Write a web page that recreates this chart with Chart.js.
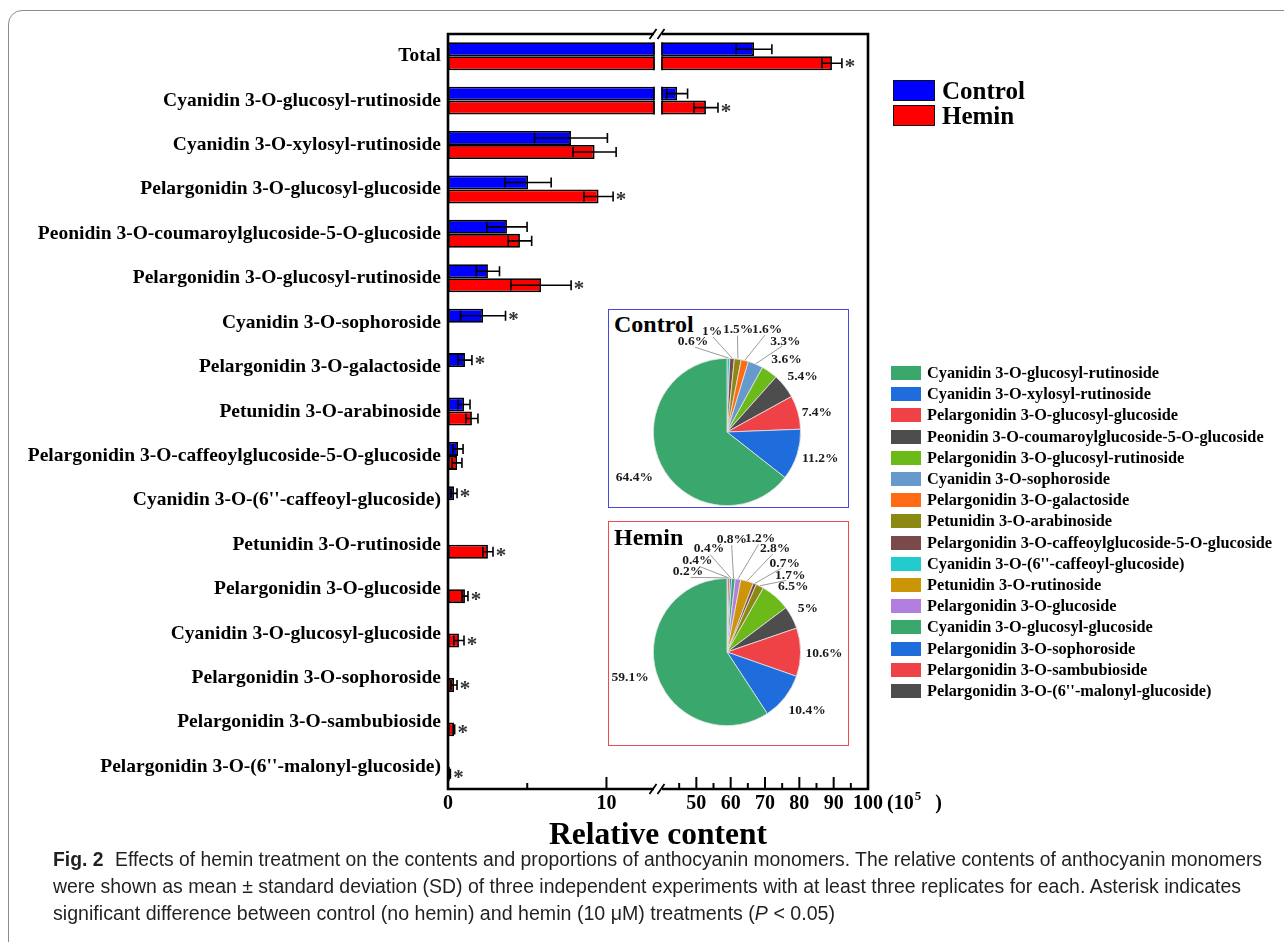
<!DOCTYPE html>
<html>
<head>
<meta charset="utf-8">
<script src="https://cdn.jsdelivr.net/npm/chart.js@4.4.1/dist/chart.umd.min.js"></script>
<style>
  html, body { margin: 0; padding: 0; background: #fff; }
  #page { position: relative; width: 1284px; height: 942px; overflow: hidden; background: #fff; }
  #outline { position: absolute; left: 8px; top: 10px; width: 1320px; height: 980px;
             border: 1px solid #8c8c8c; border-radius: 14px; box-sizing: border-box; }
  canvas { position: absolute; }
  .serif { font-family: "Liberation Serif", "Times New Roman", serif; font-weight: bold; color: #000; }
  .sl-box { position: absolute; left: 893px; width: 42px; height: 21px; border: 1.5px solid #111; box-sizing: border-box; }
  .sl-text { position: absolute; left: 942px; font-size: 25px; line-height: 25px; white-space: nowrap; }
  .pieBox { position: absolute; left: 608px; width: 241px; box-sizing: border-box; background: #fff; }
  #ctrlBox { top: 309px; height: 199px; border: 1.5px solid #4848e0; }
  #heminBox { top: 521px; height: 225px; border: 1.5px solid #ee4c4c; }
  .pieTitle { position: absolute; left: 5px; font-size: 24px; line-height: 24px; white-space: nowrap; }
  #pieLegend { position: absolute; left: 891px; top: 366px; }
  .pl-row { position: absolute; left: 0; display: flex; align-items: center; height: 14px; white-space: nowrap; }
  .pl-box { width: 30px; height: 14px; margin-right: 6px; flex: none; }
  .pl-text { font-size: 16.3px; line-height: 14px; }
  #caption { position: absolute; left: 53px; top: 846px; color: #231f20; white-space: nowrap;
             font-family: "Liberation Sans", "Open Sans", sans-serif;
             font-size: 20px; line-height: 27px; }
  #caption > div { width: max-content; transform-origin: 0 0; }
  #caption b { margin-right: 12px; }
</style>
</head>
<body>
<div id="page">
  <div id="outline"></div>
  <canvas id="bars" width="1284" height="942" style="left:0;top:0;"></canvas>
  <div id="seriesLegend"></div>
  <div id="ctrlBox" class="pieBox"><div class="pieTitle serif" style="top:2px;">Control</div></div>
  <div id="heminBox" class="pieBox"><div class="pieTitle serif" style="top:2.5px;">Hemin</div></div>
  <canvas id="ctrlPie" width="241" height="199" style="left:608px;top:309px;"></canvas>
  <canvas id="heminPie" width="241" height="225" style="left:608px;top:521px;"></canvas>
  <div id="pieLegend"></div>
  <div id="caption">
    <div><b>Fig. 2</b>Effects of hemin treatment on the contents and proportions of anthocyanin monomers. The relative contents of anthocyanin monomers</div>
    <div>were shown as mean ± standard deviation (SD) of three independent experiments with at least three replicates for each. Asterisk indicates</div>
    <div>significant difference between control (no hemin) and hemin (10 μM) treatments (<i>P</i> &lt; 0.05)</div>
  </div>
</div>

<script>
// ---- bar chart data (relative content, ×10^5) ----
const categories = [
  'Total',
  'Cyanidin 3-O-glucosyl-rutinoside',
  'Cyanidin 3-O-xylosyl-rutinoside',
  'Pelargonidin 3-O-glucosyl-glucoside',
  'Peonidin 3-O-coumaroylglucoside-5-O-glucoside',
  'Pelargonidin 3-O-glucosyl-rutinoside',
  'Cyanidin 3-O-sophoroside',
  'Pelargonidin 3-O-galactoside',
  'Petunidin 3-O-arabinoside',
  'Pelargonidin 3-O-caffeoylglucoside-5-O-glucoside',
  "Cyanidin 3-O-(6''-caffeoyl-glucoside)",
  'Petunidin 3-O-rutinoside',
  'Pelargonidin 3-O-glucoside',
  'Cyanidin 3-O-glucosyl-glucoside',
  'Pelargonidin 3-O-sophoroside',
  'Pelargonidin 3-O-sambubioside',
  "Pelargonidin 3-O-(6''-malonyl-glucoside)"
];
const controlMean = [66.8, 44.4, 7.76, 5.05, 3.72, 2.52, 2.21, 1.07, 1.01, 0.63, 0.38, null, null, null, null, null, null];
const controlSD   = [5.2, 3.05, 2.3, 1.46, 1.27, 0.73, 1.42, 0.44, 0.38, 0.32, 0.19, null, null, null, null, null, null];
const heminMean   = [89.5, 52.8, 9.25, 9.5, 4.54, 5.87, null, null, 1.51, 0.57, null, 2.52, 1.07, 0.69, 0.38, 0.38, 0.12];
const heminSD     = [2.9, 3.5, 1.36, 0.92, 0.74, 1.9, null, null, 0.38, 0.31, null, 0.32, 0.19, 0.32, 0.19, 0.04, 0.03];
const significant = [true, true, false, true, false, true, true, true, false, false, true, true, true, true, true, true, true];
const xTickValues = [0, 5, 10, 45, 50, 55, 60, 65, 70, 75, 80, 85, 90, 95, 100];
const xTickLabels = ['0', '', '10', '', '50', '', '60', '', '70', '', '80', '', '90', '', '100'];

// ---- pie data (share of total, %) ----
const monomers = [
  'Cyanidin 3-O-glucosyl-rutinoside',
  'Cyanidin 3-O-xylosyl-rutinoside',
  'Pelargonidin 3-O-glucosyl-glucoside',
  'Peonidin 3-O-coumaroylglucoside-5-O-glucoside',
  'Pelargonidin 3-O-glucosyl-rutinoside',
  'Cyanidin 3-O-sophoroside',
  'Pelargonidin 3-O-galactoside',
  'Petunidin 3-O-arabinoside',
  'Pelargonidin 3-O-caffeoylglucoside-5-O-glucoside',
  "Cyanidin 3-O-(6''-caffeoyl-glucoside)",
  'Petunidin 3-O-rutinoside',
  'Pelargonidin 3-O-glucoside',
  'Cyanidin 3-O-glucosyl-glucoside',
  'Pelargonidin 3-O-sophoroside',
  'Pelargonidin 3-O-sambubioside',
  "Pelargonidin 3-O-(6''-malonyl-glucoside)"
];
const controlShare = [64.4, 11.2, 7.4, 5.4, 3.6, 3.3, 1.6, 1.5, 1, 0.6, 0, 0, 0, 0, 0, 0];
const heminShare   = [59.1, 10.4, 10.6, 5, 6.5, 0, 0, 1.7, 0.7, 0, 2.8, 1.2, 0.8, 0.4, 0.4, 0.2];

// ---- styling ----
const SERIF = '"Liberation Serif", "Times New Roman", serif';
const seriesColors = { Control: '#0000ff', Hemin: '#ff0000' };
const pieColors = ['#3aa86c', '#1f6cdd', '#ee4246', '#4d4d4d', '#6cba1a', '#6699cc', '#ff6a14', '#8b8912',
                   '#7a4a4a', '#22cccc', '#cc9507', '#b27ee0', '#3aa86c', '#1f6cdd', '#ee4246', '#4d4d4d'];
// label anchors around each pie: [degrees clockwise from 12 o'clock, distance from centre in px]
const controlLabelAt = [[244, 103], [106, 97], [77.5, 92], [53.6, 94], [39.3, 94], [32.7, 108], [21.4, 110],
                        [6.2, 103], [-8.4, 102], [-20.6, 96.5], null, null, null, null, null, null];
const heminLabelAt = [[255.5, 100], [126, 99], [90.6, 97], [61.5, 92], [45.4, 93], null, null, [39.7, 99],
                      [33, 106], null, [25, 114], [16.3, 118], [2.5, 113], [-9.9, 105], [-18, 96], [-26, 89]];
// caption line lengths
const captionWidths = [1209, 1188, 782];

// ---- value axis with a break between 13 and 40 ----
const AXIS_BREAK = { lowMax: 13, highMin: 40, gap: 8 };

class BrokenLinearScale extends Chart.LinearScale {
  static id = 'brokenLinear';
  static defaults = Chart.LinearScale.defaults;
  _segments() {
    const seg = (this.right - this.left - AXIS_BREAK.gap) / 2;
    return { L: this.left, seg };
  }
  getPixelForValue(value) {
    if (value === null || value === undefined || isNaN(value)) return NaN;
    const { L, seg } = this._segments();
    const { lowMax, highMin, gap } = AXIS_BREAK;
    if (value <= lowMax) return L + (value / lowMax) * seg;
    if (value >= highMin) return L + seg + gap + ((value - highMin) / (this.max - highMin)) * seg;
    return L + seg + ((value - lowMax) / (highMin - lowMax)) * gap;
  }
  getValueForPixel(pixel) {
    const { L, seg } = this._segments();
    const { lowMax, highMin, gap } = AXIS_BREAK;
    const d = pixel - L;
    if (d <= seg) return (d / seg) * lowMax;
    if (d >= seg + gap) return highMin + ((d - seg - gap) / seg) * (this.max - highMin);
    return lowMax + ((d - seg) / gap) * (highMin - lowMax);
  }
}
Chart.register(BrokenLinearScale);

// ---- error bars, significance marks, frame with break marks, inward ticks ----
const barDecor = {
  id: 'barDecor',
  afterDatasetsDraw(chart) {
    const ctx = chart.ctx, xs = chart.scales.x;
    const gapL = xs.getPixelForValue(AXIS_BREAK.lowMax), gapR = xs.getPixelForValue(AXIS_BREAK.highMin);
    ctx.save();
    // split bars that run across the break
    chart.data.datasets.forEach((ds, di) => {
      chart.getDatasetMeta(di).data.forEach((bar, i) => {
        const v = ds.data[i];
        if (v == null || v <= AXIS_BREAK.lowMax) return;
        const top = bar.y - bar.height / 2, bot = bar.y + bar.height / 2;
        ctx.fillStyle = '#fff';
        ctx.fillRect(gapL, top - 0.5, gapR - gapL, bar.height + 1);
        ctx.strokeStyle = '#000'; ctx.lineWidth = 1.8;
        ctx.beginPath();
        ctx.moveTo(gapL, top); ctx.lineTo(gapL, bot);
        ctx.moveTo(gapR, top); ctx.lineTo(gapR, bot);
        ctx.stroke();
      });
    });
    // error bars (mean ± SD)
    ctx.strokeStyle = '#000'; ctx.lineWidth = 1.6;
    chart.data.datasets.forEach((ds, di) => {
      chart.getDatasetMeta(di).data.forEach((bar, i) => {
        const v = ds.data[i], s = ds.errors[i];
        if (v == null || !s) return;
        const x1 = xs.getPixelForValue(Math.max(v - s, 0)), x2 = xs.getPixelForValue(v + s);
        const cap = bar.height * 0.36;
        ctx.beginPath();
        ctx.moveTo(x1, bar.y); ctx.lineTo(x2, bar.y);
        ctx.moveTo(x1, bar.y - cap); ctx.lineTo(x1, bar.y + cap);
        ctx.moveTo(x2, bar.y - cap); ctx.lineTo(x2, bar.y + cap);
        ctx.stroke();
      });
    });
    // asterisks beside the larger bar of each significant pair
    ctx.fillStyle = '#333';
    ctx.font = 'bold 21px ' + SERIF;
    ctx.textAlign = 'center'; ctx.textBaseline = 'alphabetic';
    significant.forEach((sig, i) => {
      if (!sig) return;
      let best = null;
      chart.data.datasets.forEach((ds, di) => {
        const v = ds.data[i];
        if (v == null) return;
        const reach = v + (ds.errors[i] || 0);
        if (!best || reach > best.reach) best = { reach, bar: chart.getDatasetMeta(di).data[i] };
      });
      if (best) ctx.fillText('*', xs.getPixelForValue(best.reach) + 8, best.bar.y + 10);
    });
    ctx.restore();
  },
  afterDraw(chart) {
    const ctx = chart.ctx, xs = chart.scales.x, a = chart.chartArea;
    const gapL = xs.getPixelForValue(AXIS_BREAK.lowMax), gapR = xs.getPixelForValue(AXIS_BREAK.highMin);
    ctx.save();
    ctx.strokeStyle = '#000';
    // inward tick marks
    ctx.lineWidth = 2;
    xTickValues.forEach((v, i) => {
      const x = xs.getPixelForValue(v), len = xTickLabels[i] ? 12 : 6;
      ctx.beginPath(); ctx.moveTo(x, a.bottom); ctx.lineTo(x, a.bottom - len); ctx.stroke();
    });
    // frame, interrupted at the break
    ctx.lineWidth = 2.6;
    ctx.beginPath();
    ctx.moveTo(gapL, a.top); ctx.lineTo(a.left, a.top); ctx.lineTo(a.left, a.bottom); ctx.lineTo(gapL, a.bottom);
    ctx.moveTo(gapR, a.top); ctx.lineTo(a.right, a.top); ctx.lineTo(a.right, a.bottom); ctx.lineTo(gapR, a.bottom);
    ctx.stroke();
    // break marks
    ctx.lineWidth = 1.8;
    [a.top, a.bottom].forEach(y => {
      [gapL - 1, gapR - 1].forEach(x => {
        ctx.beginPath(); ctx.moveTo(x - 3.5, y + 5); ctx.lineTo(x + 3.5, y - 5); ctx.stroke();
      });
    });
    // unit after the last tick label
    ctx.fillStyle = '#000';
    ctx.textBaseline = 'middle'; ctx.textAlign = 'left';
    const yLab = xs.top + 3 + 12;
    ctx.font = 'bold 20px ' + SERIF;
    let x = xs.getPixelForValue(100) + ctx.measureText('100').width / 2 + 4;
    ctx.fillText('(10', x, yLab);
    x += ctx.measureText('(10').width + 1;
    ctx.font = 'bold 13px ' + SERIF;
    ctx.fillText('5', x, yLab - 7);
    x += ctx.measureText('5').width + 14;
    ctx.font = 'bold 20px ' + SERIF;
    ctx.fillText(')', x, yLab);
    ctx.restore();
  }
};

const barChart = new Chart(document.getElementById('bars'), {
  type: 'bar',
  data: {
    labels: categories,
    datasets: [
      { label: 'Control', data: controlMean, errors: controlSD, backgroundColor: seriesColors.Control },
      { label: 'Hemin', data: heminMean, errors: heminSD, backgroundColor: seriesColors.Hemin }
    ]
  },
  options: {
    indexAxis: 'y',
    responsive: false,
    devicePixelRatio: 1,
    animation: false,
    events: [],
    layout: { padding: { left: 0, top: 34, right: 416, bottom: 87 } },
    datasets: {
      bar: { borderColor: '#000', borderWidth: 1.8, borderSkipped: false,
             categoryPercentage: 0.63, barPercentage: 1.0 }
    },
    plugins: { legend: { display: false }, tooltip: { enabled: false } },
    scales: {
      y: {
        type: 'category',
        grid: { display: false, drawTicks: false },
        border: { display: false },
        ticks: { color: '#000', padding: 7, autoSkip: false, font: { family: SERIF, weight: 'bold', size: 19.5 } },
        afterFit: s => { s.width = 448; }
      },
      x: {
        type: 'brokenLinear',
        min: 0, max: 100,
        grid: { display: false, drawTicks: false },
        border: { display: false },
        afterBuildTicks: s => { s.ticks = xTickValues.map(v => ({ value: v })); },
        ticks: {
          color: '#000', padding: 3, autoSkip: false, maxRotation: 0,
          font: { family: SERIF, weight: 'bold', size: 20 },
          callback: (v, i) => xTickLabels[i]
        },
        title: { display: true, text: 'Relative content', color: '#000', padding: 0,
                 font: { family: SERIF, weight: 'bold', size: 31.5 } },
        afterFit: s => { s.height = 66; }
      }
    }
  },
  plugins: [barDecor]
});

// series legend built from the bar datasets
(function () {
  const host = document.getElementById('seriesLegend');
  barChart.data.datasets.forEach((ds, i) => {
    const box = document.createElement('div');
    box.className = 'sl-box';
    box.style.top = (80 + 25 * i) + 'px';
    box.style.background = ds.backgroundColor;
    const txt = document.createElement('div');
    txt.className = 'sl-text serif';
    txt.style.top = (77.5 + 25 * i) + 'px';
    txt.textContent = ds.label;
    host.appendChild(box); host.appendChild(txt);
  });
})();

// ---- pies: slices run anticlockwise from 12 o'clock in list order ----
const pieLabelPlugin = {
  id: 'pieLabels',
  afterDatasetsDraw(chart, args, opts) {
    const ctx = chart.ctx, meta = chart.getDatasetMeta(0), data = chart.data.datasets[0].data;
    ctx.save();
    ctx.font = 'bold 13.5px ' + SERIF;
    ctx.fillStyle = '#1a1a1a'; ctx.textAlign = 'center'; ctx.textBaseline = 'middle';
    ctx.strokeStyle = '#9a9a9a'; ctx.lineWidth = 1;
    meta.data.forEach((arc, i) => {
      const v = data[i], at = opts.at[i];
      if (!v || !at) return;
      const th = (at[0] - 90) * Math.PI / 180;
      const lx = arc.x + at[1] * Math.cos(th), ly = arc.y + at[1] * Math.sin(th);
      if (v < 3.5) {
        const mid = (arc.startAngle + arc.endAngle) / 2;
        const r0 = arc.outerRadius + 0.5;
        ctx.beginPath();
        ctx.moveTo(arc.x + r0 * Math.cos(mid), arc.y + r0 * Math.sin(mid));
        ctx.lineTo(arc.x + (at[1] - 6) * Math.cos(th), arc.y + (at[1] - 6) * Math.sin(th));
        ctx.stroke();
      }
      ctx.fillText(v + '%', lx, ly);
    });
    ctx.restore();
  }
};

function makePie(id, shares, labelAt, padding) {
  const rev = a => a.slice().reverse();
  return new Chart(document.getElementById(id), {
    type: 'pie',
    data: {
      labels: rev(monomers),
      datasets: [{ data: rev(shares), backgroundColor: rev(pieColors), borderColor: '#e4e4e4', borderWidth: 0.8 }]
    },
    options: {
      responsive: false, devicePixelRatio: 1, animation: false, events: [],
      layout: { padding },
      plugins: { legend: { display: false }, tooltip: { enabled: false }, pieLabels: { at: rev(labelAt) } }
    },
    plugins: [pieLabelPlugin]
  });
}
makePie('ctrlPie', controlShare, controlLabelAt, { left: 45, right: 48, top: 49, bottom: 2 });
makePie('heminPie', heminShare, heminLabelAt, { left: 45, right: 48, top: 57, bottom: 20 });

// pie legend
(function () {
  const host = document.getElementById('pieLegend');
  monomers.forEach((name, i) => {
    const row = document.createElement('div');
    row.className = 'pl-row';
    row.style.top = (21.2 * i) + 'px';
    const box = document.createElement('div');
    box.className = 'pl-box';
    box.style.background = pieColors[i];
    const txt = document.createElement('div');
    txt.className = 'pl-text serif';
    txt.textContent = name;
    row.appendChild(box); row.appendChild(txt);
    host.appendChild(row);
  });
})();

// condense each caption line to its set length
function fitCaption() {
  document.querySelectorAll('#caption > div').forEach((el, i) => {
    el.style.transform = 'none';
    const w = el.getBoundingClientRect().width;
    if (w > 0) el.style.transform = 'scaleX(' + (captionWidths[i] / w) + ')';
  });
}
fitCaption();
if (document.fonts && document.fonts.ready) document.fonts.ready.then(fitCaption);
</script>
</body>
</html>
